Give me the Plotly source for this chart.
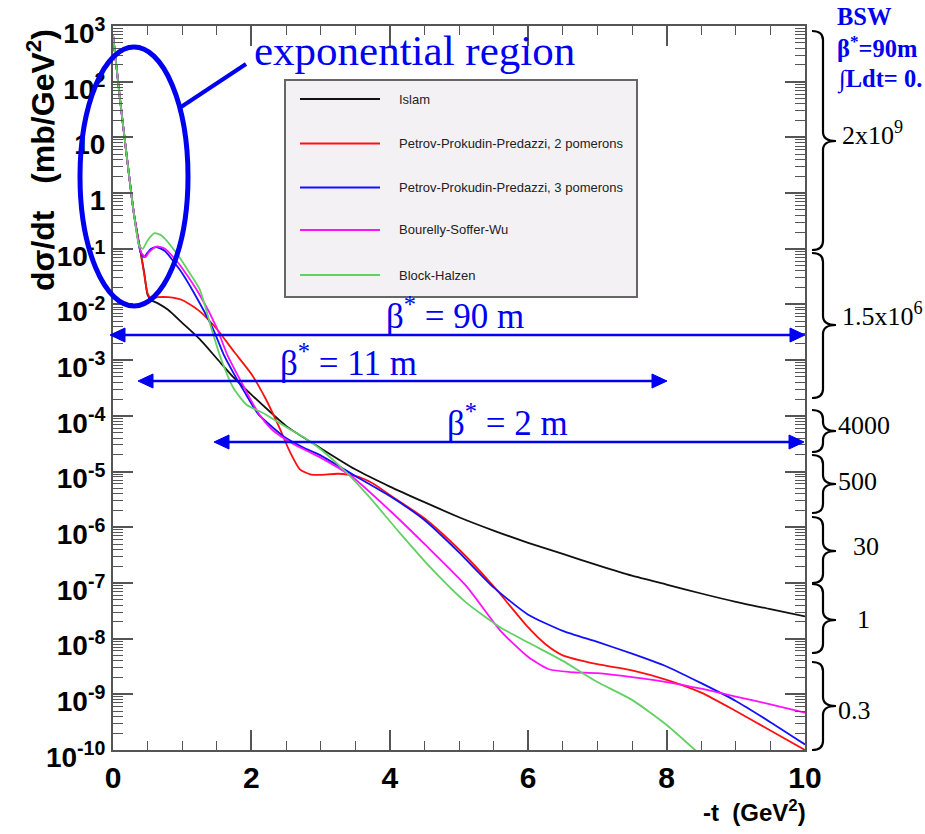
import numpy as np
import plotly.graph_objects as go

# Model predictions for elastic pp scattering: -t in GeV^2, log10 of dsigma/dt in mb/GeV^2
t_islam = [0.0, 0.1, 0.2, 0.3, 0.4, 0.45, 0.5, 0.55, 0.65, 0.8, 1.0, 1.25, 1.5, 1.75, 2.0, 2.5,
           3.0, 3.5, 4.0, 4.5, 5.0, 5.5, 6.0, 6.5, 7.0, 7.5, 8.0, 8.5, 9.0, 9.5, 10.0]
lg_islam = [2.84, 1.70, 0.65, -0.35, -1.07, -1.42, -1.83, -1.92, -1.98, -2.10, -2.33, -2.62, -2.97,
            -3.32, -3.62, -4.18, -4.58, -4.96, -5.27, -5.55, -5.82, -6.06, -6.28, -6.48, -6.68,
            -6.87, -7.03, -7.19, -7.34, -7.47, -7.60]

t_ppp2 = [0.0, 0.1, 0.2, 0.3, 0.4, 0.45, 0.5, 0.55, 0.65, 0.8, 1.0, 1.25, 1.5, 1.75, 2.0, 2.2, 2.4,
          2.55, 2.7, 2.85, 3.0, 3.25, 3.5, 3.75, 4.0, 4.5, 5.0, 5.5, 6.0, 6.25, 6.5, 7.0, 7.5, 8.0,
          8.5, 9.0, 9.5, 10.0]
lg_ppp2 = [2.84, 1.70, 0.65, -0.35, -1.07, -1.45, -1.80, -1.89, -1.87, -1.87, -1.92, -2.12, -2.44,
           -2.85, -3.25, -3.68, -4.20, -4.63, -4.96, -5.05, -5.06, -5.04, -5.08, -5.21, -5.42, -5.84,
           -6.40, -7.06, -7.80, -8.10, -8.30, -8.46, -8.57, -8.74, -8.97, -9.30, -9.65, -10.0]

t_ppp3 = [0.0, 0.1, 0.2, 0.3, 0.4, 0.45, 0.5, 0.55, 0.63, 0.75, 0.9, 1.0, 1.25, 1.45, 1.6, 1.75,
          1.9, 2.1, 2.3, 2.5, 2.75, 3.0, 3.5, 4.0, 4.5, 5.0, 5.5, 6.0, 6.5, 7.0, 7.5, 8.0, 8.5, 9.0,
          9.5, 10.0]
lg_ppp3 = [2.84, 1.70, 0.65, -0.35, -1.07, -1.15, -1.07, -1.00, -0.97, -1.04, -1.27, -1.44, -1.97,
           -2.45, -2.90, -3.25, -3.57, -3.97, -4.20, -4.40, -4.57, -4.71, -5.08, -5.44, -5.87, -6.45,
           -7.08, -7.57, -7.86, -8.06, -8.27, -8.50, -8.80, -9.12, -9.50, -9.90]

t_bsw = [0.0, 0.1, 0.2, 0.3, 0.4, 0.44, 0.47, 0.52, 0.63, 0.75, 0.92, 1.0, 1.25, 1.5, 1.65, 1.9,
         2.1, 2.3, 2.6, 3.0, 3.45, 4.0, 4.5, 5.1, 5.6, 6.0, 6.3, 6.6, 7.0, 7.5, 8.0, 8.5, 9.0, 9.5,
         10.0]
lg_bsw = [2.84, 1.70, 0.65, -0.35, -1.05, -1.12, -1.15, -1.06, -0.96, -1.00, -1.22, -1.35, -1.82,
          -2.42, -2.90, -3.50, -3.95, -4.25, -4.50, -4.75, -5.09, -5.70, -6.30, -7.05, -7.86, -8.33,
          -8.55, -8.60, -8.62, -8.69, -8.78, -8.90, -9.04, -9.18, -9.33]

t_bh = [0.0, 0.1, 0.2, 0.3, 0.38, 0.43, 0.5, 0.6, 0.7, 0.92, 1.1, 1.25, 1.43, 1.55, 1.74, 1.93, 2.2,
        2.5, 2.75, 3.0, 3.4, 3.7, 4.15, 4.6, 5.1, 5.6, 6.0, 6.5, 7.0, 7.5, 8.0, 8.5]
lg_bh = [2.84, 1.70, 0.65, -0.35, -0.95, -1.00, -0.85, -0.72, -0.76, -1.08, -1.42, -1.72, -2.46,
         -2.94, -3.50, -3.80, -3.97, -4.20, -4.38, -4.60, -5.05, -5.45, -6.11, -6.74, -7.35, -7.80,
         -8.07, -8.40, -8.78, -9.10, -9.55, -10.10]

model_names = ["Islam", "Petrov-Prokudin-Predazzi, 2 pomerons", "Petrov-Prokudin-Predazzi, 3 pomerons",
               "Bourelly-Soffer-Wu", "Block-Halzen"]
model_t = [t_islam, t_ppp2, t_ppp3, t_bsw, t_bh]
model_lg = [lg_islam, lg_ppp2, lg_ppp3, lg_bsw, lg_bh]
model_colors = ["#111111", "#ff1010", "#1010ff", "#ff10ff", "#62d062"]

# Beta* acceptance ranges and luminosity-labelled braces
beta_labels = ["β<sup>*</sup> = 90 m", "β<sup>*</sup> = 11 m", "β<sup>*</sup> = 2 m"]
brace_labels = ["2x10<sup>9</sup>", "1.5x10<sup>6</sup>", "4000", "500", "30", "1", "0.3"]

y_exp = list(range(-10, 4))
y_ticktext = [("1" if k == 0 else "10" if k == 1 else f"10<sup>{k}</sup>") for k in y_exp]

W, H = 925, 834
L, R, T, B = 113, 805, 26, 750
BLUE = "#0000f0"
SANS = "Liberation Sans, Arial, sans-serif"
SERIF = "Liberation Serif, Times New Roman, serif"


def px(x):
    return (x - L) / (R - L)


def py(y):
    return (B - y) / (B - T)


fig = go.Figure()
for name, t, lg, col in zip(model_names, model_t, model_lg, model_colors):
    fig.add_trace(go.Scatter(
        x=t, y=np.power(10.0, lg), mode="lines", name=name, showlegend=False,
        line=dict(color=col, width=1.8, shape="spline", smoothing=0.6),
    ))

shapes = []
annotations = []

# legend box
shapes.append(dict(type="rect", xref="paper", yref="paper", x0=px(285), x1=px(637),
                   y0=py(297), y1=py(80), fillcolor="#f4f1f4", line=dict(color="#666666", width=2),
                   layer="below"))
legend_y = [99, 143.5, 187.5, 230, 275]
for name, col, ly in zip(model_names, model_colors, legend_y):
    shapes.append(dict(type="line", xref="paper", yref="paper", x0=px(300), x1=px(380),
                       y0=py(ly), y1=py(ly), line=dict(color=col, width=1.8)))
    annotations.append(dict(xref="paper", yref="paper", x=px(397), y=py(ly), text=name,
                            showarrow=False, xanchor="left", yanchor="middle",
                            font=dict(family=SANS, size=13, color="#222222")))

# ellipse around the exponential region and its callout
shapes.append(dict(type="circle", xref="paper", yref="paper", x0=px(80), x1=px(188),
                   y0=py(306), y1=py(47), line=dict(color=BLUE, width=5)))
shapes.append(dict(type="line", xref="paper", yref="paper", x0=px(181), y0=py(107),
                   x1=px(246), y1=py(64), line=dict(color=BLUE, width=4)))
annotations.append(dict(xref="paper", yref="paper", x=px(252), y=py(50), text="exponential region",
                        showarrow=False, xanchor="left", yanchor="middle",
                        font=dict(family=SERIF, size=43, color=BLUE)))


# double arrows for the beta* ranges
def double_arrow(x_left, x_right, y):
    hl, hw = 15, 7
    shapes.append(dict(type="line", xref="paper", yref="paper", x0=px(x_left + 8), x1=px(x_right - 8),
                       y0=py(y), y1=py(y), line=dict(color=BLUE, width=2.5)))
    shapes.append(dict(type="path", xref="paper", yref="paper",
                       path=f"M {px(x_left)},{py(y)} L {px(x_left + hl)},{py(y - hw)} "
                            f"L {px(x_left + hl)},{py(y + hw)} Z",
                       fillcolor=BLUE, line=dict(color=BLUE, width=1)))
    shapes.append(dict(type="path", xref="paper", yref="paper",
                       path=f"M {px(x_right)},{py(y)} L {px(x_right - hl)},{py(y - hw)} "
                            f"L {px(x_right - hl)},{py(y + hw)} Z",
                       fillcolor=BLUE, line=dict(color=BLUE, width=1)))


arrows = [(110, 805, 335, 384, 313), (138, 667, 381, 278, 360), (214, 804, 442, 445, 420)]
for (xl, xr, ya, xt, yt), lab in zip(arrows, beta_labels):
    double_arrow(xl, xr, ya)
    annotations.append(dict(xref="paper", yref="paper", x=px(xt), y=py(yt), text=lab,
                            showarrow=False, xanchor="left", yanchor="middle",
                            font=dict(family=SERIF, size=35, color=BLUE)))


# curly braces on the right with the event counts
def brace(y_top, y_bot, y_mid, xe=812, xv=823, xt=836, r=9):
    pts = [
        ("M", [(xe, y_top)]),
        ("Q", [(xv, y_top), (xv, y_top + r)]),
        ("L", [(xv, y_mid - r)]),
        ("Q", [(xv, y_mid), (xt, y_mid)]),
        ("Q", [(xv, y_mid), (xv, y_mid + r)]),
        ("L", [(xv, y_bot - r)]),
        ("Q", [(xv, y_bot), (xe, y_bot)]),
    ]
    path = " ".join(c + " " + " ".join(f"{px(a)},{py(b)}" for a, b in p) for c, p in pts)
    shapes.append(dict(type="path", xref="paper", yref="paper", path=path,
                       line=dict(color="black", width=2.2)))


braces = [(31, 250, 141, 840, 133), (253, 398, 325, 840, 315), (410, 452, 431, 836, 425),
          (455, 513, 484, 836, 482), (517, 583, 551, 851, 546), (584, 653, 620, 855, 619),
          (662, 750, 706, 836, 710)]
for (yt_, yb_, ym_, xl_, yl_), lab in zip(braces, brace_labels):
    brace(yt_, yb_, ym_)
    annotations.append(dict(xref="paper", yref="paper", x=px(xl_), y=py(yl_), text=lab,
                            showarrow=False, xanchor="left", yanchor="middle",
                            font=dict(family=SERIF, size=26, color="black")))

# run conditions in the top right corner
for txt, yc in [("BSW", 16), ("β<sup>*</sup>=90m", 47), ("∫Ldt= 0.", 80)]:
    annotations.append(dict(xref="paper", yref="paper", x=px(835), y=py(yc), text=f"<b>{txt}</b>",
                            showarrow=False, xanchor="left", yanchor="middle",
                            font=dict(family=SERIF, size=24.5, color=BLUE)))

# axis titles
annotations.append(dict(xref="paper", yref="paper", x=px(41), y=py(160), textangle=-90,
                        text="<b>dσ/dt\u00a0\u00a0\u00a0(mb/GeV<sup>2</sup>)</b>", showarrow=False,
                        xanchor="center", yanchor="middle",
                        font=dict(family=SANS, size=32, color="black")))
annotations.append(dict(xref="paper", yref="paper", x=px(808), y=py(811),
                        text="<b>-t\u00a0\u00a0(GeV<sup>2</sup>)</b>", showarrow=False,
                        xanchor="right", yanchor="middle",
                        font=dict(family=SANS, size=24, color="black")))

axis_col = "#555555"
fig.update_layout(
    width=W, height=H,
    margin=dict(l=L, r=W - R, t=T, b=H - B),
    paper_bgcolor="white", plot_bgcolor="white",
    showlegend=False,
    shapes=shapes, annotations=annotations,
    xaxis=dict(range=[0, 10], tickmode="linear", tick0=0, dtick=2,
               ticks="inside", ticklen=20, tickwidth=1.5, tickcolor=axis_col,
               minor=dict(dtick=0.5, ticks="inside", ticklen=9, tickwidth=1.2, tickcolor=axis_col),
               showline=True, linecolor=axis_col, linewidth=2, mirror="ticks",
               showgrid=False, zeroline=False,
               tickfont=dict(family=SANS, size=30, color="black"), tickprefix="<b>", ticksuffix="</b>"),
    yaxis=dict(type="log", range=[-10, 3], tickmode="array",
               tickvals=[10.0 ** k for k in y_exp], ticktext=[f"<b>{s}</b>" for s in y_ticktext],
               ticks="inside", ticklen=20, tickwidth=1.5, tickcolor=axis_col,
               minor=dict(tickmode="array",
                          tickvals=[m * 10.0 ** k for k in range(-10, 3) for m in range(2, 10)],
                          ticks="inside", ticklen=10, tickwidth=1.2, tickcolor=axis_col),
               showline=True, linecolor=axis_col, linewidth=2, mirror="ticks",
               showgrid=False, zeroline=False, ticklabelshift=7,
               tickfont=dict(family=SANS, size=28, color="black")),
)

fig.write_html("out.html")
